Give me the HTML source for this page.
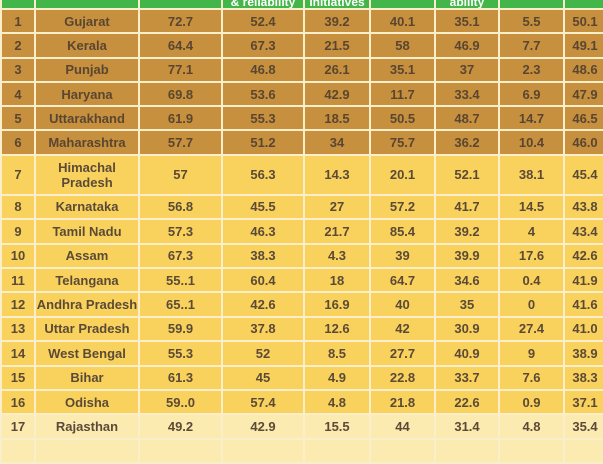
<!DOCTYPE html>
<html><head><meta charset="utf-8"><style>
body{margin:0;width:603px;height:445px;overflow:hidden;background:#fdf0c0;font-family:"Liberation Sans",sans-serif;}
table{position:absolute;left:0;top:-16px;border-collapse:collapse;table-layout:fixed;width:605px;}
td{border:2px solid #fbeecb;text-align:center;font-weight:bold;font-size:13px;color:#5b4a36;padding:0;line-height:15px;overflow:hidden;}
tr.h td{background:#43b649;color:#fff;height:22px;vertical-align:bottom;font-size:12px;line-height:12px;}
tr.b td{background:#c6903f;height:22.3px;color:#5a4630;}
tr.y td{background:#f9d25e;height:22.4px;}
tr.l td{background:#fcebb0;height:22.4px;}
tr.t td{height:38px;}
</style></head><body>
<table>
<colgroup><col style="width:34px"><col style="width:104px"><col style="width:83px"><col style="width:82px"><col style="width:66px"><col style="width:65px"><col style="width:64px"><col style="width:65px"><col style="width:42px"></colgroup>
<tr class="h"><td></td><td></td><td></td><td>&amp; reliability</td><td>initiatives</td><td></td><td>ability</td><td></td><td></td></tr>
<tr class="b"><td>1</td><td>Gujarat</td><td>72.7</td><td>52.4</td><td>39.2</td><td>40.1</td><td>35.1</td><td>5.5</td><td>50.1</td></tr>
<tr class="b"><td>2</td><td>Kerala</td><td>64.4</td><td>67.3</td><td>21.5</td><td>58</td><td>46.9</td><td>7.7</td><td>49.1</td></tr>
<tr class="b"><td>3</td><td>Punjab</td><td>77.1</td><td>46.8</td><td>26.1</td><td>35.1</td><td>37</td><td>2.3</td><td>48.6</td></tr>
<tr class="b"><td>4</td><td>Haryana</td><td>69.8</td><td>53.6</td><td>42.9</td><td>11.7</td><td>33.4</td><td>6.9</td><td>47.9</td></tr>
<tr class="b"><td>5</td><td>Uttarakhand</td><td>61.9</td><td>55.3</td><td>18.5</td><td>50.5</td><td>48.7</td><td>14.7</td><td>46.5</td></tr>
<tr class="b"><td>6</td><td>Maharashtra</td><td>57.7</td><td>51.2</td><td>34</td><td>75.7</td><td>36.2</td><td>10.4</td><td>46.0</td></tr>
<tr class="y t"><td>7</td><td>Himachal<br>Pradesh</td><td>57</td><td>56.3</td><td>14.3</td><td>20.1</td><td>52.1</td><td>38.1</td><td>45.4</td></tr>
<tr class="y"><td>8</td><td>Karnataka</td><td>56.8</td><td>45.5</td><td>27</td><td>57.2</td><td>41.7</td><td>14.5</td><td>43.8</td></tr>
<tr class="y"><td>9</td><td>Tamil Nadu</td><td>57.3</td><td>46.3</td><td>21.7</td><td>85.4</td><td>39.2</td><td>4</td><td>43.4</td></tr>
<tr class="y"><td>10</td><td>Assam</td><td>67.3</td><td>38.3</td><td>4.3</td><td>39</td><td>39.9</td><td>17.6</td><td>42.6</td></tr>
<tr class="y"><td>11</td><td>Telangana</td><td>55..1</td><td>60.4</td><td>18</td><td>64.7</td><td>34.6</td><td>0.4</td><td>41.9</td></tr>
<tr class="y"><td>12</td><td>Andhra Pradesh</td><td>65..1</td><td>42.6</td><td>16.9</td><td>40</td><td>35</td><td>0</td><td>41.6</td></tr>
<tr class="y"><td>13</td><td>Uttar Pradesh</td><td>59.9</td><td>37.8</td><td>12.6</td><td>42</td><td>30.9</td><td>27.4</td><td>41.0</td></tr>
<tr class="y"><td>14</td><td>West Bengal</td><td>55.3</td><td>52</td><td>8.5</td><td>27.7</td><td>40.9</td><td>9</td><td>38.9</td></tr>
<tr class="y"><td>15</td><td>Bihar</td><td>61.3</td><td>45</td><td>4.9</td><td>22.8</td><td>33.7</td><td>7.6</td><td>38.3</td></tr>
<tr class="y"><td>16</td><td>Odisha</td><td>59..0</td><td>57.4</td><td>4.8</td><td>21.8</td><td>22.6</td><td>0.9</td><td>37.1</td></tr>
<tr class="l"><td>17</td><td>Rajasthan</td><td>49.2</td><td>42.9</td><td>15.5</td><td>44</td><td>31.4</td><td>4.8</td><td>35.4</td></tr>
<tr class="l"><td></td><td></td><td></td><td></td><td></td><td></td><td></td><td></td><td></td></tr>
</table>
</body></html>
